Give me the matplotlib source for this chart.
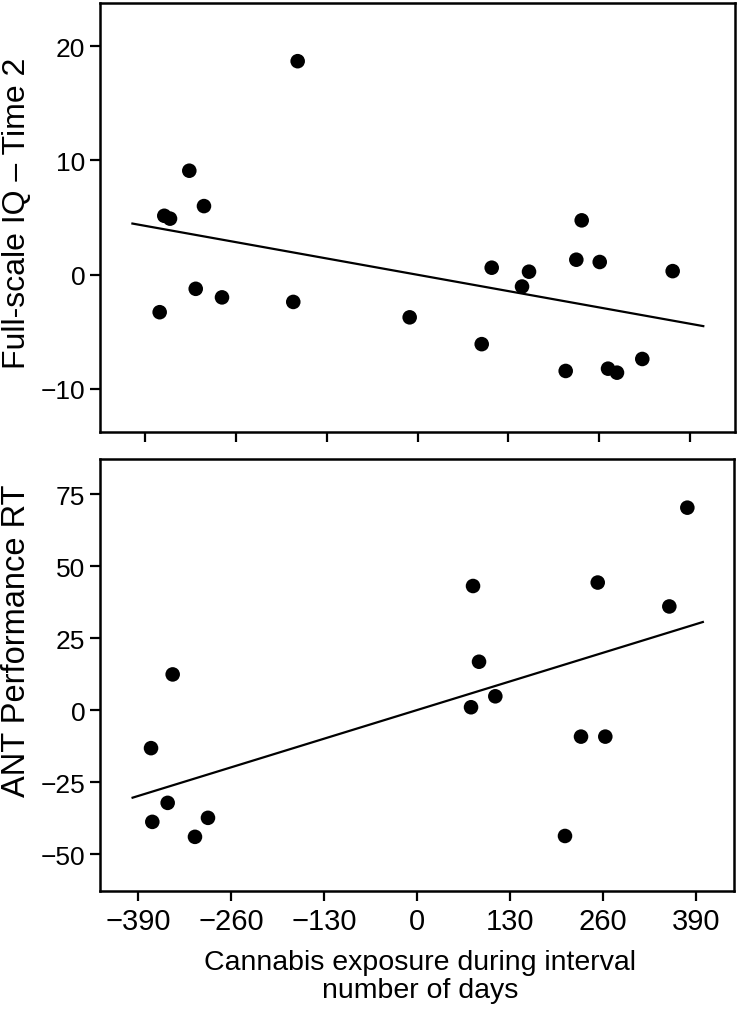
import matplotlib
matplotlib.use("Agg")
import matplotlib.pyplot as plt

plt.rcParams['font.family'] = ['Liberation Sans', 'DejaVu Sans']

# ---- data ----
iq_x = [-171.5, -326.6, -305.6, -362.4, -354.2, -369, -317.4, -279.8, -177.8,
        -11.2, 91.9, 106.2, 159.6, 149.6, 235, 227.3, 260.8, 365.2, 212.1,
        272.7, 285.5, 321.7]
iq_y = [18.7, 9.1, 6.0, 5.15, 4.9, -3.3, -1.25, -2.0, -2.4,
        -3.75, -6.1, 0.6, 0.25, -1.05, 4.75, 1.3, 1.1, 0.3, -8.45,
        -8.25, -8.6, -7.4]
iq_fit_x = [-408, 409]
iq_fit_y = [4.47, -4.52]

rt_x = [-341.9, -372.2, -348.9, -370.4, -310.7, -292.5, 378.3, 252.9, 78.4,
        353.1, 86.8, 109.6, 75.6, 229.5, 263.5, 207.1]
rt_y = [12.4, -13.2, -32.2, -38.8, -44.0, -37.4, 70.3, 44.3, 43.1,
        36.0, 16.8, 4.8, 1.0, -9.2, -9.2, -43.7]
rt_fit_x = [-398, 400]
rt_fit_y = [-30.4, 30.6]

x_ticks = [-390, -260, -130, 0, 130, 260, 390]
x_ticklabels = ['\u2212390', '\u2212260', '\u2212130', '0', '130', '260', '390']
iq_ticks = [-10, 0, 10, 20]
iq_ticklabels = ['\u221210', '0', '10', '20']
rt_ticks = [-50, -25, 0, 25, 50, 75]
rt_ticklabels = ['\u221250', '\u221225', '0', '25', '50', '75']

ylabel_top = 'Full-scale IQ \u2013 Time 2'
ylabel_bottom = 'ANT Performance RT'
xlabel = 'Cannabis exposure during interval\nnumber of days'

W, H = 740, 1012
fig = plt.figure(figsize=(W / 100, H / 100), dpi=100)

ax1 = fig.add_axes([100 / W, 1 - 433 / H, 635 / W, 429 / H])
ax2 = fig.add_axes([100 / W, 1 - 891.7 / H, 634 / W, 431.7 / H])


def style(ax):
    for s in ax.spines.values():
        s.set_linewidth(1.8)
        s.set_color('black')
    ax.tick_params(axis='both', direction='out', length=7.5, width=1.6,
                   color='black', labelsize=19, pad=3)
    ax.tick_params(axis='x', labelsize=21, pad=4)


# top panel
ax1.scatter(iq_x, iq_y, s=110, color='black', edgecolors='none', zorder=3)
ax1.plot(iq_fit_x, iq_fit_y, color='black', lw=1.6, zorder=2)
ax1.set_xlim(-454.4, 454.4)
ax1.set_ylim(-13.8, 23.8)
ax1.set_xticks(x_ticks)
ax1.set_xticklabels([])
ax1.set_yticks(iq_ticks)
ax1.set_yticklabels(iq_ticklabels)
style(ax1)

# bottom panel
ax2.scatter(rt_x, rt_y, s=110, color='black', edgecolors='none', zorder=3)
ax2.plot(rt_fit_x, rt_fit_y, color='black', lw=1.6, zorder=2)
ax2.set_xlim(-443.6, 443.6)
ax2.set_ylim(-62.7, 87.2)
ax2.set_xticks(x_ticks)
ax2.set_xticklabels(x_ticklabels)
ax2.set_yticks(rt_ticks)
ax2.set_yticklabels(rt_ticklabels)
style(ax2)

fig.text(17 / W, 1 - 213.5 / H, ylabel_top, rotation=90, ha='center',
         va='center', fontsize=23)
fig.text(17 / W, 1 - 641 / H, ylabel_bottom, rotation=90, ha='center',
         va='center', fontsize=23.5)
fig.text(420 / W, 1 - 977 / H, xlabel, ha='center', va='center',
         fontsize=20.5, linespacing=1.1)

fig.savefig('out.png', dpi=100)
